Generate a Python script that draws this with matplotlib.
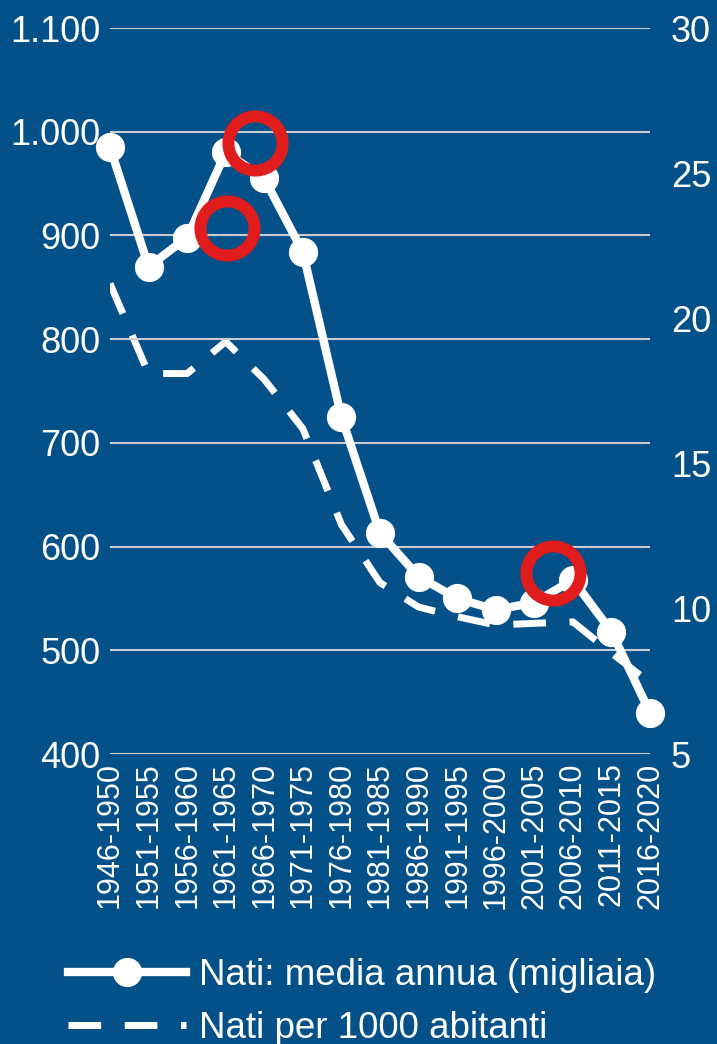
import matplotlib
matplotlib.use("Agg")
import matplotlib.pyplot as plt
from matplotlib.ticker import FuncFormatter

periods = ["1946-1950", "1951-1955", "1956-1960", "1961-1965", "1966-1970",
           "1971-1975", "1976-1980", "1981-1985", "1986-1990", "1991-1995",
           "1996-2000", "2001-2005", "2006-2010", "2011-2015", "2016-2020"]
# nati: media annua (migliaia), left axis
births_thousands = [985, 870, 898, 980, 955, 884, 725, 613, 571, 550, 539, 546, 568, 518, 440]
# nati per 1000 abitanti, right axis
births_per_1000 = [21.2, 18.1, 18.1, 19.2, 17.9, 16.2, 12.9, 10.9, 10.06, 9.73, 9.44, 9.5, 9.55, 8.48, 7.45]

left_ticks = [400, 500, 600, 700, 800, 900, 1000, 1100]
right_ticks = [5, 10, 15, 20, 25, 30]

# red highlight rings (x in category index, y on left axis)
highlight_x = [3.76, 3.03, 11.49]
highlight_y = [989, 907, 575]

BG = "#04518a"
RED = "#e01c1c"

plt.rcParams['font.family'] = ['Liberation Sans', 'DejaVu Sans']

fig = plt.figure(figsize=(7.17, 10.44), dpi=100, facecolor=BG)
ax = fig.add_axes([110 / 717, 1 - 754 / 1044, 540 / 717, 726 / 1044])
ax2 = ax.twinx()

# left axis drawn on top of the twin
ax.set_zorder(ax2.get_zorder() + 1)
ax.patch.set_visible(False)
ax2.patch.set_visible(False)

x = list(range(len(periods)))

ax2.plot(x, births_per_1000, color="white", lw=5, linestyle=(0, (4.7, 3.4)),
         label="Nati per 1000 abitanti")
ax.plot(x, births_thousands, color="white", lw=6, marker="o", markersize=20,
        clip_on=False, label="Nati: media annua (migliaia)", zorder=3)

ax.plot(highlight_x, highlight_y, linestyle="none", marker="o", markersize=39,
        markerfacecolor="none", markeredgecolor=RED, markeredgewidth=8.6,
        clip_on=False, zorder=4)

ax.set_xlim(0, len(periods) - 1)
ax.set_ylim(400, 1100)
ax2.set_ylim(5, 30)

ax.set_yticks(left_ticks)
ax.yaxis.set_major_formatter(FuncFormatter(lambda v, p: f"{int(v):,}".replace(",", ".")))
ax2.set_yticks(right_ticks)

ax.set_xticks(x)
ax.set_xticklabels(periods, rotation=90)

ax.grid(axis="y", color="#c8cdd4", lw=1.5)
ax.set_axisbelow(True)

for a in (ax, ax2):
  for s in a.spines.values():
    s.set_visible(False)

ax.tick_params(axis="y", length=0, pad=7, labelsize=26, labelcolor="white")
ax.tick_params(axis="x", length=0, pad=6, labelsize=22, labelcolor="white")
ax2.tick_params(axis="y", length=0, pad=15, labelsize=26, labelcolor="white")

h1, l1 = ax.get_legend_handles_labels()
h2, l2 = ax2.get_legend_handles_labels()
leg = fig.legend([h1[0], h2[0]], [l1[0], l2[0]], loc="upper left",
                 bbox_to_anchor=(68 / 717, 1 - 958 / 1044), frameon=False,
                 fontsize=26.5, handlelength=3.2, handletextpad=0.35,
                 labelspacing=0.48, borderpad=0, borderaxespad=0,
                 labelcolor="white")

fig.savefig("out.png", dpi=100, facecolor=BG)
